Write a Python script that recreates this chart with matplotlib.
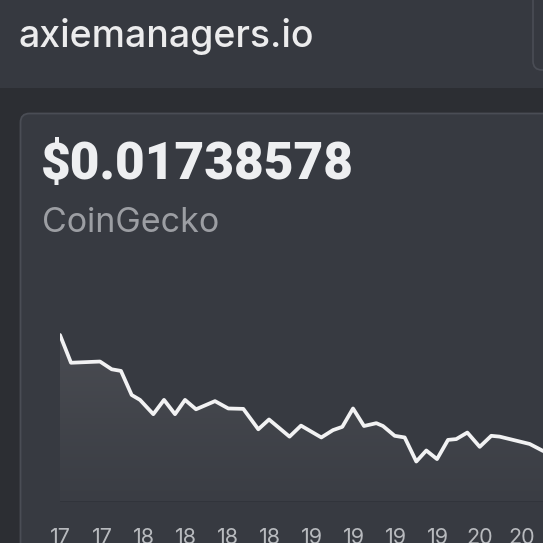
#!/usr/bin/env python3
# -*- coding: utf-8 -*-
#
# Price card from axiemanagers.io, redrawn with matplotlib.

import numpy as np
import matplotlib
matplotlib.use("Agg")
import matplotlib.pyplot as plt
from matplotlib.patches import FancyBboxPatch, Rectangle, Polygon

# Data (hours from first point, price in USD).
hours = [0, 1.57, 5.71, 7.39, 8.71, 10.24, 11.43, 13.33, 14.86, 16.43,
         17.86, 19.43, 22.14, 24.04, 26.19, 28.33, 29.86, 32.79, 34.43,
         37.33, 39.0, 40.33, 41.86, 43.43, 45.19, 46.14, 47.81, 49.24,
         50.9, 52.33, 53.86, 55.43, 56.61, 58.19, 59.96, 61.61, 62.81,
         67.1, 69.0, 71.0]
prices = [0.02050, 0.01982, 0.01985, 0.01966, 0.01962, 0.01903, 0.01891,
          0.01856, 0.01891, 0.01856, 0.01891, 0.01868, 0.01888, 0.01870,
          0.01869, 0.01819, 0.01843, 0.01801, 0.01828, 0.01799, 0.01817,
          0.01825, 0.01870, 0.01827, 0.01834, 0.01827, 0.01803, 0.01799,
          0.01740, 0.01767, 0.01746, 0.01793, 0.01795, 0.01811, 0.01776,
          0.01803, 0.01801, 0.01783, 0.01766, 0.01755]
tick_hours = [0, 6, 12, 18, 24, 30, 36, 42, 48, 54, 60, 66]
tick_labels = ["17", "17", "18", "18", "18", "18",
               "19", "19", "19", "19", "20", "20"]

site_name = "axiemanagers.io"
price_text = "$0.01738578"
source_text = "CoinGecko"

# Colours.
header_bg = "#363940"
page_bg = "#2c2e33"
card_bg = "#373a41"
border = "#4a4d55"
line_color = "#f2f2f3"

W = H = 543
fig = plt.figure(figsize=(W / 100, H / 100), dpi=100)
fig.patch.set_facecolor(page_bg)

# Background axes in pixel coords (y down).
bg = fig.add_axes([0, 0, 1, 1])
bg.set_xlim(0, W)
bg.set_ylim(H, 0)
bg.axis("off")

bg.add_patch(Rectangle((0, 0), W, 88, facecolor=header_bg, edgecolor="none"))
bg.add_patch(FancyBboxPatch((533, -30), 40, 100,
                            boxstyle="round,pad=0,rounding_size=9",
                            facecolor=header_bg, edgecolor=border, lw=1.2))
bg.add_patch(FancyBboxPatch((20.5, 113.5), 600, 500,
                            boxstyle="round,pad=0,rounding_size=9",
                            facecolor=card_bg, edgecolor=border, lw=1.3))

bg.text(19, 47, site_name, fontsize=27, family="Inter", fontweight="medium",
        color="#ececed", va="baseline", ha="left")
bg.text(41, 179, price_text, fontsize=37, family="Roboto",
        fontweight="black", color="#eeeff1", va="baseline", ha="left")
bg.text(42, 232, source_text, fontsize=24.5, family="Inter",
        color="#9c9ea3", va="baseline", ha="left")

# Chart axes: 7 px per hour, baseline at y=502.
k = 2.45e-5  # price per pixel
y_bottom = 0.02050 - (502 - 335) * k
y_top = 0.02050 + (335 - 300) * k
ax = fig.add_axes([60 / W, (H - 502) / H, 483 / W, 202 / H])
ax.set_facecolor("none")
ax.set_xlim(0, 69)
ax.set_ylim(y_bottom, y_top)
for s in ax.spines.values():
    s.set_visible(False)
ax.set_yticks([])

# Gradient under the line.
grad = np.linspace(0, 1, 256).reshape(-1, 1)
cmap = matplotlib.colors.LinearSegmentedColormap.from_list(
    "fillgrad", ["#4a4c52", "#3a3d44"])
img = ax.imshow(grad, cmap=cmap, aspect="auto",
                extent=[0, 71, y_bottom, max(prices)], origin="upper",
                zorder=1)
poly = Polygon(list(zip(hours, prices)) + [(hours[-1], y_bottom),
                                           (hours[0], y_bottom)],
               closed=True, facecolor="none", edgecolor="none",
               transform=ax.transData)
ax.add_patch(poly)
img.set_clip_path(poly)
ax.axhline(y_bottom + 0.4 * k, color="#30333a", lw=1.2, zorder=2)

ax.plot(hours, prices, color=line_color, lw=2.7, solid_joinstyle="round",
        solid_capstyle="round", zorder=3)

ax.set_xticks(tick_hours)
ax.set_xticklabels(tick_labels, fontsize=15.5, family="Inter",
                   color="#b8babe")
ax.tick_params(axis="x", length=0, pad=19)

fig.savefig("out.png", dpi=100, facecolor=fig.get_facecolor())
